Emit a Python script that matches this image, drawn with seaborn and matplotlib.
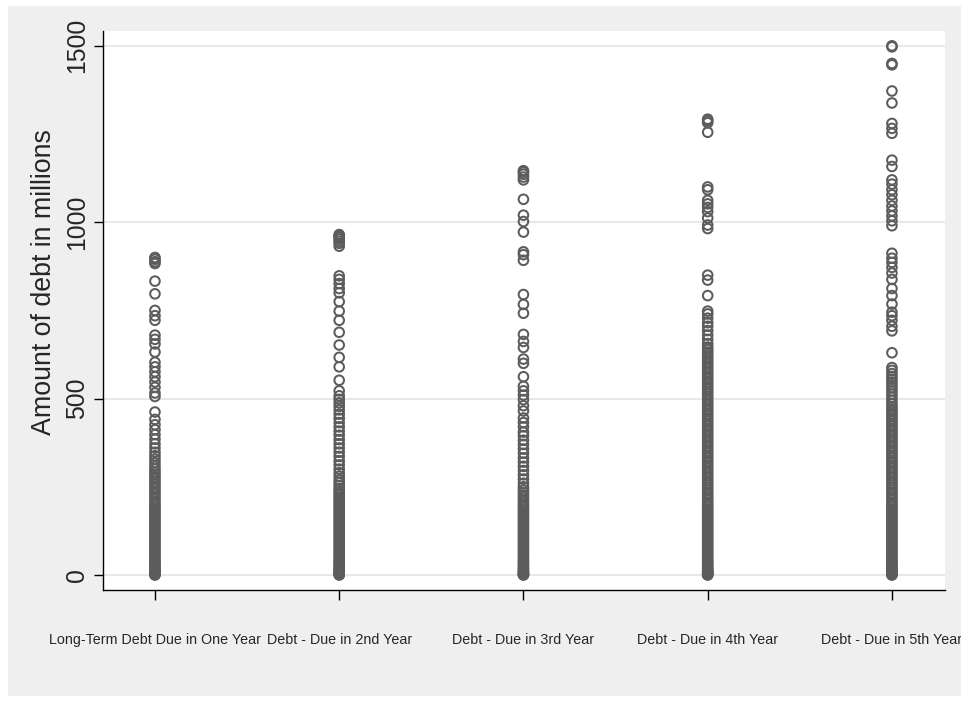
import matplotlib
matplotlib.use("Agg")
import matplotlib.pyplot as plt
from matplotlib.patches import Rectangle
import pandas as pd
import seaborn as sns

# Debt maturity buckets (millions), one array per bucket
categories = [
    "Long-Term Debt Due in One Year",
    "Debt - Due in 2nd Year",
    "Debt - Due in 3rd Year",
    "Debt - Due in 4th Year",
    "Debt - Due in 5th Year",
]

due_1st = [
    900, 895, 888, 883, 833, 797, 750, 735, 722, 680, 668, 655, 632, 603, 590,
    576, 562, 547, 532, 516, 506, 462, 441, 426, 412, 398, 385, 372, 360, 348,
    338, 328, 318, 308, 300, 292, 285, 278, 271, 264, 257, 250, 243, 236, 229,
    222, 215, 208, 201, 195, 189, 183, 177, 171, 165, 159, 153, 147, 141, 135,
    129, 123, 117, 111, 105, 99, 93, 87, 81, 75, 69, 63, 57, 51, 45, 40, 35,
    30, 25, 20, 16, 12, 9, 6, 4, 2, 1, 0,
]

due_2nd = [
    965, 961, 957, 952, 946, 940, 932, 848, 838, 826, 812, 800, 775, 748, 722,
    688, 652, 617, 590, 552, 522, 508, 498, 488, 478, 468, 456, 444, 432, 420,
    408, 396, 384, 372, 360, 348, 336, 324, 312, 300, 290, 280, 270, 262, 254,
    246, 239, 232, 226, 220, 214, 208, 202, 196, 190, 184, 178, 172, 166, 160,
    154, 148, 142, 136, 130, 124, 118, 112, 106, 100, 94, 88, 82, 76, 70, 64,
    58, 52, 46, 41, 36, 31, 26, 21, 17, 13, 10, 7, 5, 3, 1, 0,
]

due_3rd = [
    1146, 1142, 1136, 1128, 1120, 1065, 1020, 1002, 972, 916, 908, 892, 795,
    767, 742, 682, 662, 645, 612, 600, 562, 535, 522, 510, 497, 480, 465, 445,
    432, 420, 405, 395, 382, 370, 357, 345, 332, 320, 308, 296, 284, 272, 260,
    250, 241, 234, 227, 220, 213, 206, 199, 193, 187, 181, 175, 169, 163, 157,
    151, 145, 139, 133, 127, 121, 115, 109, 103, 97, 91, 85, 79, 73, 67, 61,
    55, 49, 44, 39, 34, 29, 24, 20, 16, 12, 9, 6, 4, 2, 1, 0,
]

due_4th = [
    1292, 1288, 1282, 1255, 1100, 1092, 1062, 1052, 1042, 1030, 1012, 992, 982,
    850, 836, 792, 748, 740, 728, 715, 705, 693, 680, 668, 656, 646, 639, 632,
    625, 618, 611, 604, 597, 590, 583, 576, 569, 562, 555, 548, 541, 534, 527,
    520, 513, 506, 499, 492, 485, 478, 471, 464, 457, 450, 443, 436, 429, 422,
    415, 408, 401, 394, 387, 380, 373, 366, 359, 352, 345, 338, 331, 324, 317,
    310, 303, 296, 289, 282, 275, 268, 261, 254, 247, 240, 233, 226, 219, 212,
    205, 199, 193, 187, 181, 175, 169, 163, 157, 151, 145, 139, 133, 127, 121,
    115, 109, 103, 97, 91, 85, 79, 73, 67, 61, 55, 49, 44, 39, 34, 29, 24, 20,
    16, 12, 9, 6, 4, 2, 1, 0,
]

due_5th = [
    1500, 1497, 1450, 1446, 1372, 1338, 1280, 1266, 1252, 1176, 1158, 1120,
    1108, 1092, 1078, 1062, 1046, 1032, 1018, 1004, 990, 912, 898, 886, 872,
    856, 838, 812, 792, 768, 745, 735, 722, 705, 692, 630, 588, 580, 571, 563,
    555, 547, 539, 531, 522, 513, 504, 495, 486, 478, 471, 464, 457, 450, 443,
    436, 429, 422, 415, 408, 401, 394, 387, 380, 373, 366, 359, 352, 345, 338,
    331, 324, 317, 310, 303, 296, 289, 282, 275, 268, 261, 254, 247, 240, 233,
    226, 219, 212, 205, 199, 193, 187, 181, 175, 169, 163, 157, 151, 145, 139,
    133, 127, 121, 115, 109, 103, 97, 91, 85, 79, 73, 67, 61, 55, 49, 44, 39,
    34, 29, 24, 20, 16, 12, 9, 6, 4, 2, 1, 0,
]

series = [due_1st, due_2nd, due_3rd, due_4th, due_5th]
df = pd.DataFrame({
    "bucket": [c for c, vals in zip(categories, series) for _ in vals],
    "amount": [v for vals in series for v in vals],
})

sns.set_theme(style="white")
plt.rcParams["font.family"] = ["Liberation Sans", "DejaVu Sans"]

W, H = 961, 702
fig = plt.figure(figsize=(W / 100, H / 100), dpi=100, facecolor="white")
# Light gray graph region behind the white plot region
fig.patches.append(Rectangle((8 / W, 6 / H), 1 - 8 / W, 1 - 12 / H,
                             transform=fig.transFigure, facecolor="#efefef",
                             edgecolor="none", zorder=-10))

ax = fig.add_axes([103 / W, (H - 590) / H, (945 - 103) / W, (590 - 31) / H])
ax.set_facecolor("white")

marker_color = "#5c5c5c"
sns.stripplot(data=df, x="bucket", y="amount", order=categories, jitter=False,
              marker="o", size=6.9, linewidth=1.45, color=marker_color, ax=ax,
              zorder=3)
for coll in ax.collections:
    coll.set_facecolor("none")
    coll.set_edgecolor(marker_color)
    coll.set_linewidth(1.45)

ax.set_xlim(-0.282, 4.288)
ax.set_ylim(-42.5, 1542)
ax.set_yticks([0, 500, 1000, 1500])
ax.set_yticklabels(["0", "500", "1000", "1500"], rotation=90, va="center",
                   fontsize=17.8)
ax.yaxis.grid(True, color="#e6e6e6", linewidth=1.3, zorder=0)
ax.xaxis.grid(False)
ax.set_axisbelow(True)

for side in ("top", "right"):
    ax.spines[side].set_visible(False)
for side in ("left", "bottom"):
    ax.spines[side].set_color("black")
    ax.spines[side].set_linewidth(1.0)

ax.tick_params(axis="y", direction="out", length=6.5, width=1.0, color="black",
               pad=3.5, left=True)
ax.tick_params(axis="x", direction="out", length=7.2, width=1.0, color="black",
               pad=24, labelsize=10.3, bottom=True)

ax.set_xlabel("")
ax.set_ylabel("Amount of debt in millions", fontsize=19.3)
ax.yaxis.set_label_coords(-0.0546, 0.551)

fig.savefig("out.png", dpi=100, facecolor="white")
